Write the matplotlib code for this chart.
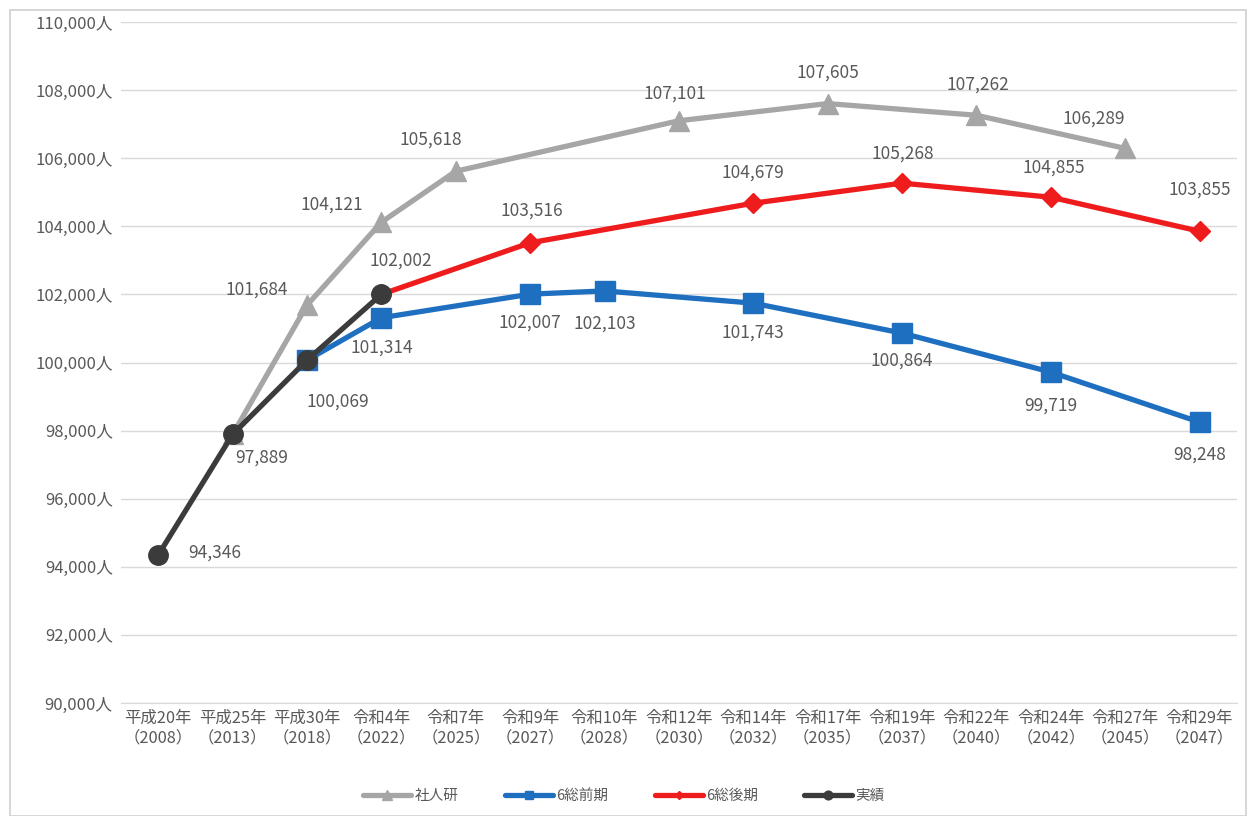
import matplotlib
matplotlib.use("Agg")
import matplotlib.pyplot as plt
from matplotlib.patches import Rectangle
from matplotlib.ticker import FuncFormatter

plt.rcParams['font.family'] = ['Noto Sans CJK JP', 'DejaVu Sans']

# --- data ---
era_labels = ["平成20年", "平成25年", "平成30年", "令和4年", "令和7年", "令和9年", "令和10年",
              "令和12年", "令和14年", "令和17年", "令和19年", "令和22年", "令和24年", "令和27年", "令和29年"]
years = [2008, 2013, 2018, 2022, 2025, 2027, 2028, 2030, 2032, 2035, 2037, 2040, 2042, 2045, 2047]

shajinken = [None, 97889, 101684, 104121, 105618, None, None, 107101, None, 107605, None, 107262, None, 106289, None]
zenki = [None, None, 100069, 101314, None, 102007, 102103, None, 101743, None, 100864, None, 99719, None, 98248]
kouki = [None, None, None, 102002, None, 103516, None, None, 104679, None, 105268, None, 104855, None, 103855]
jisseki = [94346, 97889, 100069, 102002, None, None, None, None, None, None, None, None, None, None, None]

# label offsets in pixels (None = no label)
off_shajinken = [None, None, (-50, 16), (-50, 18), (-25, 32), None, None, (-4, 27), None, (0, 31), None, (1, 31), None, (-31, 30), None]
off_zenki = [None, None, None, (0, -30), None, (0, -28), (0, -33), None, (0, -29), None, (0, -28), None, (0, -34), None, (0, -32)]
off_kouki = [None, None, None, (19, 34), None, (2, 32), None, None, (0, 31), None, (1, 30), None, (3, 30), None, (0, 42)]
off_jisseki = [(57, 2), (29, -23), (31, -41), None, None, None, None, None, None, None, None, None, None, None, None]

series = [
    ("社人研", shajinken, off_shajinken, "#A6A6A6", "^", 15),
    ("6総前期", zenki, off_zenki, "#1F6FC1", "s", 14),
    ("6総後期", kouki, off_kouki, "#EE1C1C", "D", 10),
    ("実績", jisseki, off_jisseki, "#3B3B3B", "o", 14),
]

fig = plt.figure(figsize=(12.48, 8.16), dpi=100)
ax = fig.add_axes([0.097, 0.1385, 0.894, 0.8345])

# outer light frame
fig.patches.append(Rectangle((0.008, 0.0), 0.99, 0.988, transform=fig.transFigure,
                             fill=False, edgecolor="#D0D0D0", lw=1.2))

for i, (name, vals, offs, col, mk, ms) in enumerate(series):
    xs = [k for k, v in enumerate(vals) if v is not None]
    ys = [vals[k] for k in xs]
    ax.plot(xs, ys, color=col, lw=3.8, marker=mk, markersize=ms, label=name,
            zorder=3 + i, solid_capstyle="round")
    for k in xs:
        if offs[k] is None:
            continue
        ax.annotate(f"{vals[k]:,}", (k, vals[k]), xytext=offs[k], textcoords="offset pixels",
                    ha="center", va="center", fontsize=12.5, color="#595959", zorder=10)

ax.set_ylim(90000, 110000)
ax.set_yticks(range(90000, 110001, 2000))
ax.yaxis.set_major_formatter(FuncFormatter(lambda v, p: f"{int(v):,}人"))
ax.set_xlim(-0.5, len(years) - 0.5)
ax.set_xticks(range(len(years)))
ax.set_xticklabels([f"{e}\n（{y}）" for e, y in zip(era_labels, years)], fontsize=11.8,
                   color="#595959", linespacing=1.2)
ax.tick_params(axis="y", labelsize=12, labelcolor="#595959", length=0, pad=6)
ax.tick_params(axis="x", length=0, pad=5)
ax.grid(axis="y", color="#D9D9D9", lw=1)
ax.set_axisbelow(True)
for s in ["top", "right", "left"]:
    ax.spines[s].set_visible(False)
ax.spines["bottom"].set_color("#D9D9D9")

fig.legend(loc="lower center", bbox_to_anchor=(0.5, 0.0), ncol=4, frameon=False,
           fontsize=10.5, handlelength=3.3, handletextpad=0.2, columnspacing=3.2,
           markerscale=0.45, labelcolor="#595959")

fig.savefig("out.png", dpi=100)
